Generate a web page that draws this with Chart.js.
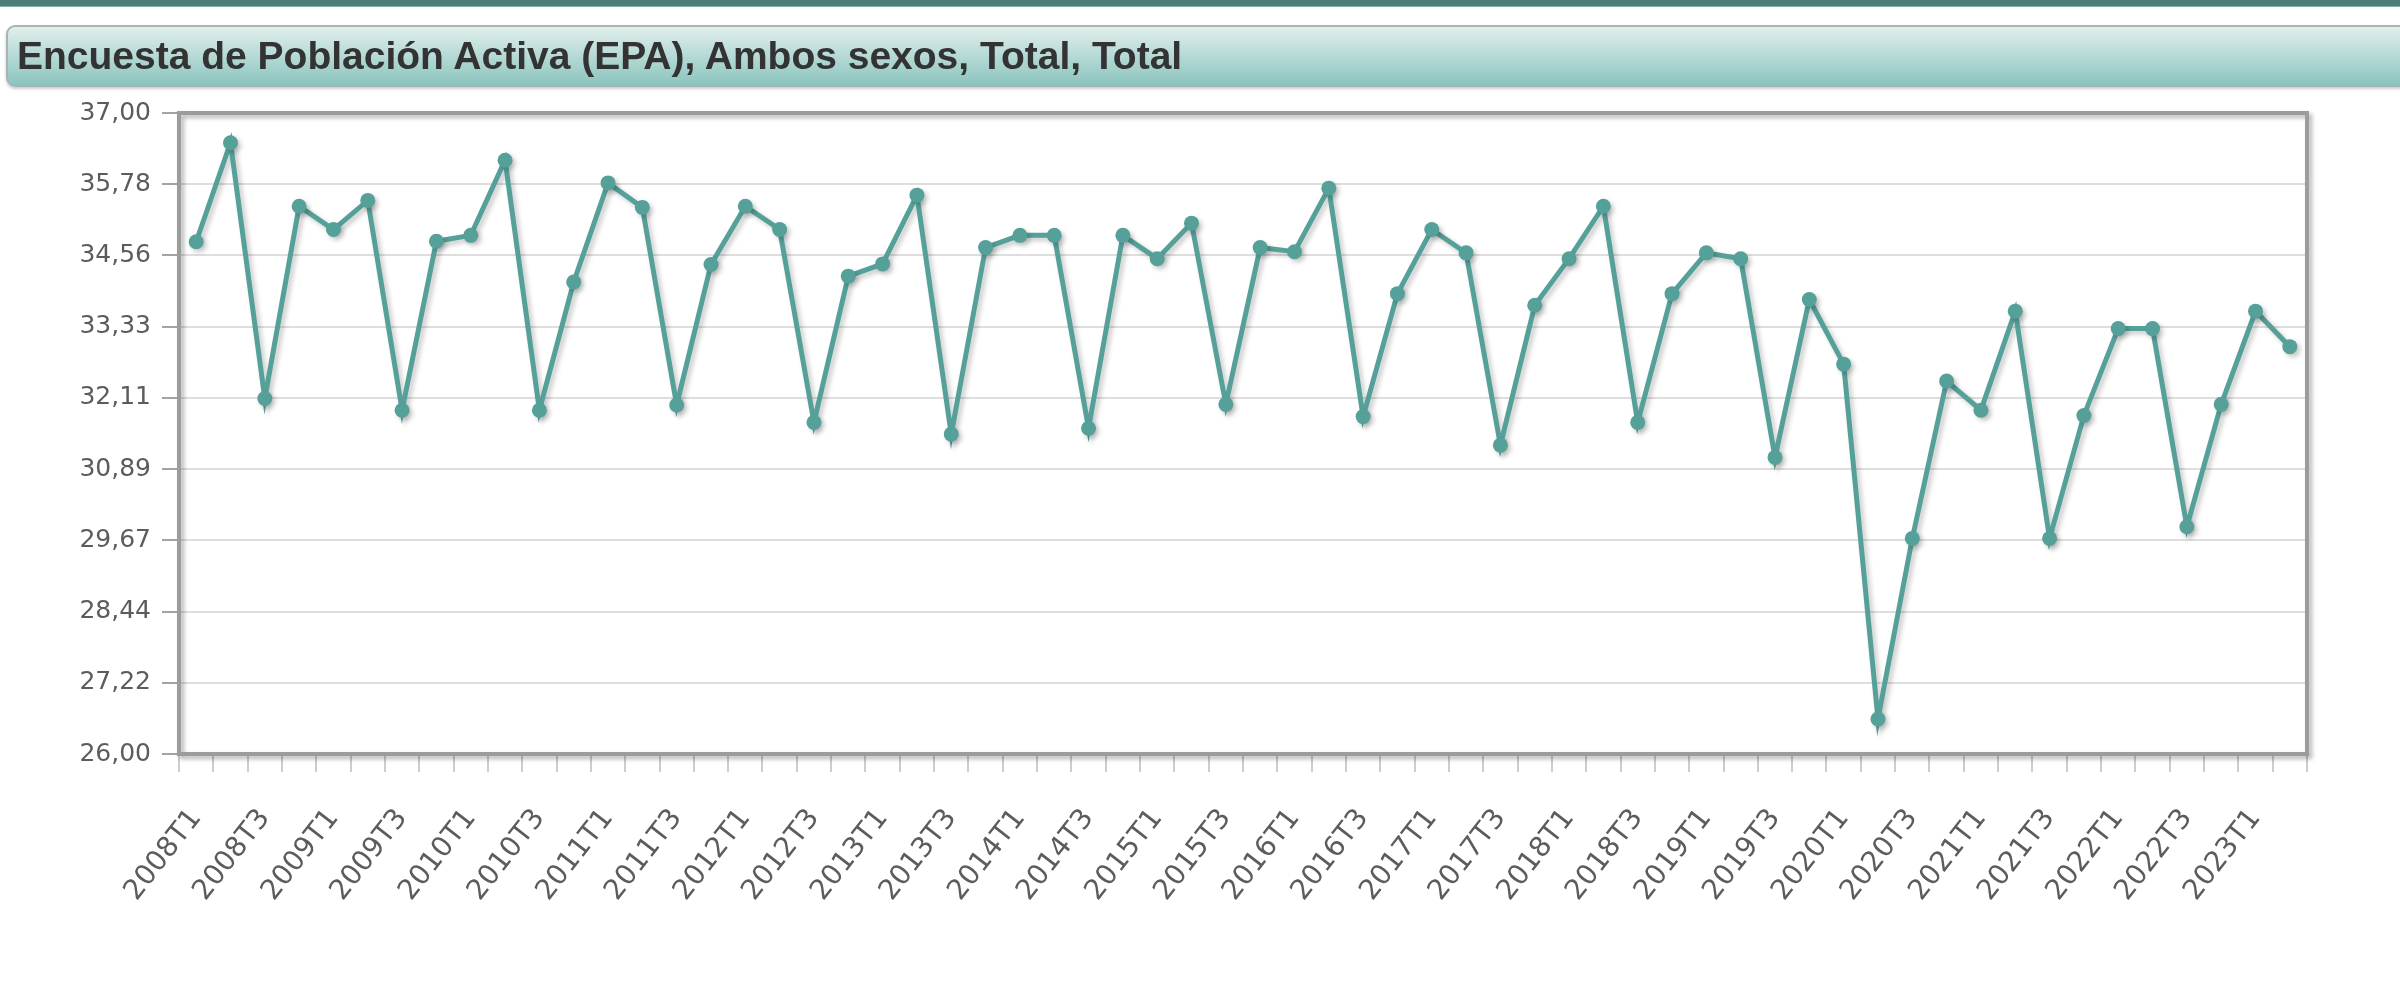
<!DOCTYPE html>
<html>
<head>
<meta charset="utf-8">
<title>EPA</title>
<script src="https://cdn.jsdelivr.net/npm/chart.js@4.4.0/dist/chart.umd.min.js"></script>
<style>
body { margin: 0; background: #fff; }
#barra { position: absolute; left: 0; top: 0; width: 2400px; height: 6px; background: #4b7e78; border-bottom: 1px solid #86aea9; }
#titulo {
    position: absolute; left: 6px; top: 25px; width: 2420px; height: 58px;
    border: 2px solid #a9b4b2; border-radius: 9px;
    background: linear-gradient(#e0efed, #8cc4be);
    box-shadow: 0 2px 3px rgba(0,0,0,0.2);
    font: bold 39px "Liberation Sans", Arial, sans-serif; color: #333;
    line-height: 58px; padding-left: 9px; white-space: nowrap;
}
</style>
</head>
<body>
<canvas id="lineChart" width="2400" height="997"></canvas>
<div id="barra"></div>
<div id="titulo">Encuesta de Población Activa (EPA), Ambos sexos, Total, Total</div>
<script>
// trimestres
var labels = [
    '2008T1', '2008T2', '2008T3', '2008T4', '2009T1', '2009T2', '2009T3', '2009T4',
    '2010T1', '2010T2', '2010T3', '2010T4', '2011T1', '2011T2', '2011T3', '2011T4',
    '2012T1', '2012T2', '2012T3', '2012T4', '2013T1', '2013T2', '2013T3', '2013T4',
    '2014T1', '2014T2', '2014T3', '2014T4', '2015T1', '2015T2', '2015T3', '2015T4',
    '2016T1', '2016T2', '2016T3', '2016T4', '2017T1', '2017T2', '2017T3', '2017T4',
    '2018T1', '2018T2', '2018T3', '2018T4', '2019T1', '2019T2', '2019T3', '2019T4',
    '2020T1', '2020T2', '2020T3', '2020T4', '2021T1', '2021T2', '2021T3', '2021T4',
    '2022T1', '2022T2', '2022T3', '2022T4', '2023T1', '2023T2'
];

// valores de la serie
var valores = [
    34.79, 36.49, 32.10, 35.40, 35.00, 35.50, 31.90, 34.80,
    34.90, 36.19, 31.90, 34.10, 35.80, 35.38, 31.99, 34.40,
    35.40, 35.00, 31.69, 34.20, 34.41, 35.59, 31.49, 34.69,
    34.90, 34.90, 31.59, 34.90, 34.50, 35.11, 32.00, 34.69,
    34.62, 35.71, 31.79, 33.90, 35.00, 34.60, 31.30, 33.70,
    34.50, 35.40, 31.69, 33.90, 34.60, 34.50, 31.09, 33.80,
    32.69, 26.60, 29.70, 32.40, 31.90, 33.60, 29.70, 31.81,
    33.30, 33.30, 29.90, 32.00, 33.60, 32.99
];

// marcas del eje y
var yTicks = [26, 27.2222, 28.4444, 29.6667, 30.8889, 32.1111, 33.3333, 34.5556, 35.7778, 37];

var color = '#56a09a';

// sombra bajo la linea
var sombra = {
    id: 'sombra',
    beforeDatasetDraw: function (chart) {
        var ctx = chart.ctx;
        ctx.save();
        ctx.shadowColor = 'rgba(0,0,0,0.22)';
        ctx.shadowOffsetX = 3;
        ctx.shadowOffsetY = 3;
        ctx.shadowBlur = 5;
    },
    afterDatasetDraw: function (chart) {
        chart.ctx.restore();
    }
};

// marco del area del grafico
var marco = {
    id: 'marco',
    beforeDatasetsDraw: function (chart) {
        var a = chart.chartArea, ctx = chart.ctx;
        ctx.save();
        ctx.shadowColor = 'rgba(0,0,0,0.3)';
        ctx.shadowOffsetX = 3;
        ctx.shadowOffsetY = 3;
        ctx.shadowBlur = 4;
        ctx.strokeStyle = '#9c9c9c';
        ctx.lineWidth = 4;
        ctx.strokeRect(a.left, a.top, a.width, a.height);
        ctx.restore();
    }
};

var data = {
    labels: labels,
    datasets: [{
        label: 'Encuesta de Población Activa (EPA), Ambos sexos, Total, Total',
        borderColor: color,
        backgroundColor: color,
        borderWidth: 5,
        pointRadius: 7.5,
        pointBorderWidth: 0,
        pointBackgroundColor: color,
        tension: 0,
        data: valores
    }]
};

var config = {
    type: 'line',
    data: data,
    plugins: [marco, sombra],
    options: {
        responsive: false,
        animation: false,
        layout: { padding: { left: 0, top: 113, right: 93, bottom: 0 } },
        plugins: {
            legend: { display: false },
            tooltip: { enabled: false }
        },
        scales: {
            x: {
                offset: true,
                grid: {
                    offset: true, drawOnChartArea: false, drawTicks: true,
                    tickLength: 18, color: '#cdcdcd', lineWidth: 2
                },
                border: { display: false },
                ticks: {
                    autoSkip: false, minRotation: 52, maxRotation: 52, padding: 31,
                    color: '#5c5c5c', font: { family: 'DejaVu Sans', size: 28 },
                    callback: function (v, i) { return i % 2 === 0 ? labels[i] : ''; }
                },
                afterFit: function (s) { s.height = 243; }
            },
            y: {
                min: 26,
                max: 37,
                afterBuildTicks: function (s) {
                    s.ticks = yTicks.map(function (v) { return { value: v }; });
                },
                grid: { color: '#dedede', lineWidth: 2, tickLength: 17, tickColor: '#a3a3a3' },
                border: { display: false },
                ticks: {
                    padding: 11, color: '#5c5c5c', font: { family: 'DejaVu Sans', size: 25 },
                    callback: function (v) { return v.toFixed(2).replace('.', ','); }
                },
                afterFit: function (s) { s.width = 179; }
            }
        }
    }
};

var linechart = new Chart(document.getElementById('lineChart'), config);
</script>
</body>
</html>
